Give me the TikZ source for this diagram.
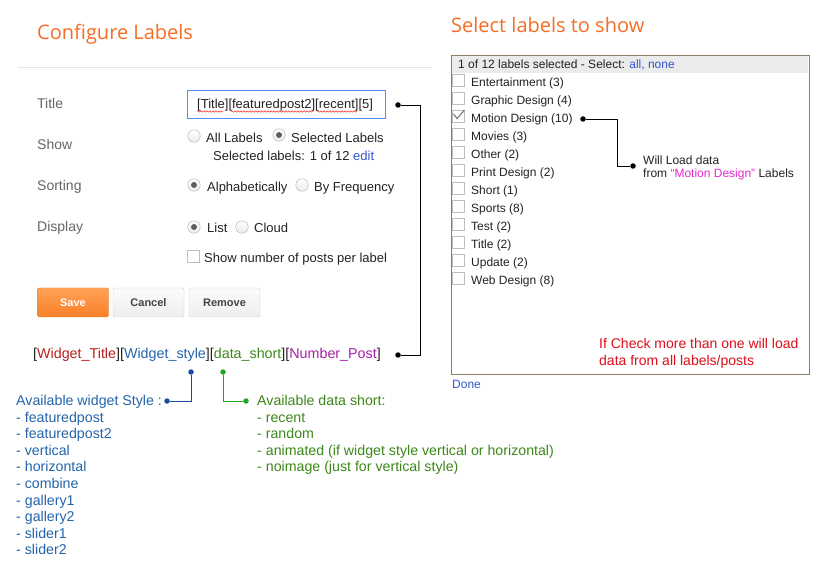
\documentclass[tikz,border=0pt]{standalone}
\usepackage{fontspec}
\setmainfont{Liberation Sans}
\newfontfamily\headfont{Open Sans}
\usetikzlibrary{positioning, decorations.pathmorphing}

\definecolor{cfgorange}{RGB}{247,108,35}
\definecolor{fieldgray}{RGB}{102,102,102}
\definecolor{uiblack}{RGB}{34,34,34}
\definecolor{inputblue}{RGB}{77,144,254}
\definecolor{radiogray}{RGB}{175,175,175}
\definecolor{dotgray}{RGB}{95,95,95}
\definecolor{chkgray}{RGB}{190,190,190}
\definecolor{btngray}{RGB}{205,205,205}
\definecolor{savetop}{RGB}{255,162,85}
\definecolor{savebot}{RGB}{249,128,40}
\definecolor{saveline}{RGB}{236,118,40}
\definecolor{sepgray}{RGB}{229,229,229}
\definecolor{boxbrown}{RGB}{140,125,105}
\definecolor{headgray}{RGB}{235,235,235}
\definecolor{linkblue}{RGB}{51,85,204}
\definecolor{wtred}{RGB}{185,30,30}
\definecolor{wsblue}{RGB}{35,100,170}
\definecolor{wsdot}{RGB}{25,75,160}
\definecolor{dsgreen}{RGB}{60,135,25}
\definecolor{dsdot}{RGB}{35,165,35}
\definecolor{nppurple}{RGB}{165,30,170}
\definecolor{mdmagenta}{RGB}{230,40,210}
\definecolor{notered}{RGB}{220,15,25}

\begin{document}
\begin{tikzpicture}[x=1pt, y=-1pt,
	heading/.style={anchor=base west, inner sep=0, text=cfgorange, font=\headfont\fontsize{20}{24}\selectfont},
	fieldname/.style={anchor=base west, inner sep=0, text=fieldgray, font=\fontsize{14}{16}\selectfont},
	uitext/.style={anchor=base west, inner sep=0, text=uiblack, font=\fontsize{13}{15}\selectfont},
	listtext/.style={anchor=base west, inner sep=0, text=uiblack, font=\fontsize{12}{14}\selectfont},
	radio/.style={circle, draw=radiogray, inner sep=0, minimum size=12.5pt, top color=white, bottom color=gray!15},
	radiodot/.style={circle, fill=dotgray, inner sep=0, minimum size=6pt},
	chkbox/.style={draw=chkgray, fill=white, inner sep=0, minimum size=12pt},
	button/.style={draw=btngray, rounded corners=1.5pt, top color=gray!3, bottom color=gray!13, minimum width=71pt, minimum height=29pt, inner sep=0, text=uiblack!85, font=\bfseries\fontsize{11}{13}\selectfont},
	joint/.style={circle, fill=black, inner sep=0, minimum size=5.5pt},
	note/.style={anchor=base west, inner sep=0, font=\fontsize{14.2}{17}\selectfont},
	spell/.style={decorate, decoration={snake, amplitude=0.7pt, segment length=3pt}, draw=red!85, line width=0.5pt}]

	\useasboundingbox (0,0) rectangle (836,588);

	% configure labels
	\node[heading] (cfg) at (37,40) {Configure Labels};
	\draw[sepgray] (18,67) -- (432,67);

	\node[fieldname] (ftitle) at (37,109) {Title};
	\node[fieldname] (fshow) at (37,150) {Show};
	\node[fieldname] (fsort) at (37,191) {Sorting};
	\node[fieldname] (fdisp) at (37,232) {Display};

	\node[draw=inputblue, line width=1pt, anchor=north west, minimum width=198pt, minimum height=28pt, inner sep=0] (tbox) at (187,90) {};
	\node[uitext] (ttext) at (197,108.5) {[Title][featuredpost2][recent][5]};
	\draw[spell] (197,111.5) -- (223,111.5);
	\draw[spell] (231,111.5) -- (313,111.5);
	\draw[spell] (317,111.5) -- (357,111.5);

	% radios
	\node[radio] (rall) at (194,136) {};
	\node[uitext] (tall) at (206,142.5) {All Labels};
	\node[radio] (rsel) at (279,135) {};
	\node[radiodot] (rseldot) at (rsel) {};
	\node[uitext] (tsel) at (291,142.5) {Selected Labels};
	\node[uitext] (tcount) at (213,160.5) {Selected labels: 1 of 12 \textcolor{linkblue}{edit}};

	\node[radio] (ralpha) at (194,185) {};
	\node[radiodot] (ralphadot) at (ralpha) {};
	\node[uitext] (talpha) at (207,191.5) {Alphabetically};
	\node[radio] (rfreq) at (302,185) {};
	\node[uitext] (tfreq) at (314,191.5) {By Frequency};

	\node[radio] (rlist) at (194,227) {};
	\node[radiodot] (rlistdot) at (rlist) {};
	\node[uitext] (tlist) at (207,233) {List};
	\node[radio] (rcloud) at (242,227) {};
	\node[uitext] (tcloud) at (254,233) {Cloud};

	\node[chkbox] (cnum) at (193,256.5) {};
	\node[uitext] (tnum) at (204,263) {Show number of posts per label};

	% buttons
	\node[button, draw=saveline, top color=savetop, bottom color=savebot, text=white] (save) at (73,302.5) {Save};
	\node[button] (cancel) at (148.5,302.5) {Cancel};
	\node[button] (remove) at (224.5,302.5) {Remove};

	% title format
	\node[note, text=uiblack, font=\fontsize{14.3}{17}\selectfont] (params) at (33,359)
		{[\textcolor{wtred}{Widget\_Title}][\textcolor{wsblue}{Widget\_style}][\textcolor{dsgreen}{data\_short}][\textcolor{nppurple}{Number\_Post}]};

	\node[joint] (tdot) at (398,105) {};
	\node[joint] (pdot) at (398,355) {};
	\draw[line width=0.9pt] (tdot) -- ++(22,0) |- (pdot);

	% widget styles
	\node[joint, fill=wsdot] (bdot) at (191,372) {};
	\node[joint, fill=wsdot] (wsjoint) at (167,401) {};
	\draw[wsdot, line width=0.9pt] (bdot) |- (wsjoint);
	\node[note, text=wsblue] (wstyle) at (16,405.5) {Available widget Style :};
	\foreach \item [count=\i] in {featuredpost, featuredpost2, vertical, horizontal, combine, gallery1, gallery2, slider1, slider2}
		\node[note, text=wsblue] (ws\i) at (16,{405.5+16.6*\i}) {- \item};

	% data short
	\node[joint, fill=dsdot] (gdot) at (223,372) {};
	\node[joint, fill=dsdot] (dsjoint) at (246,401) {};
	\draw[dsdot, line width=0.9pt] (gdot) |- (dsjoint);
	\node[note, text=dsgreen] (dshort) at (257,405.5) {Available data short:};
	\foreach \item [count=\i] in {recent, random, animated (if widget style vertical or horizontal), noimage (just for vertical style)}
		\node[note, text=dsgreen] (ds\i) at (257,{405.5+16.6*\i}) {- \item};

	% select labels
	\node[heading] (sel) at (451,33) {Select labels to show};
	\draw[boxbrown, fill=white] (451,55) rectangle (809,374);
	\fill[headgray] (452,56) rectangle (808,73);
	\node[listtext] (selhead) at (458,68.5) {1 of 12 labels selected - Select: \textcolor{linkblue}{all, none}};

	\foreach \lab [count=\i] in {Entertainment (3), Graphic Design (4), Motion Design (10), Movies (3), Other (2), Print Design (2), Short (1), Sports (8), Test (2), Title (2), Update (2), Web Design (8)} {
		\node[chkbox] (cb\i) at (458,{80.5+18*(\i-1)}) {};
		\node[listtext] (lab\i) at (471,{87+18*(\i-1)}) {\lab};
	}
	\draw[gray, line width=1.2pt] (453.5,114) -- (457,118.5) -- (464.5,110);

	\node[joint] (mdot) at (583,119) {};
	\node[joint] (ldot) at (633,166) {};
	\draw[line width=0.9pt] (mdot) -- ++(34,0) |- (ldot);
	\node[anchor=north west, inner sep=0, align=left, text=uiblack, font=\fontsize{12}{13.5}\selectfont] (load) at (643,155.3)
		{Will Load data\\from \textcolor{mdmagenta}{“Motion Design”} Labels};

	\node[anchor=north west, inner sep=0, align=left, text=notered, font=\fontsize{14}{17}\selectfont] (multi) at (599,337.8)
		{If Check more than one will load\\data from all labels/posts};

	\node[listtext, text=linkblue] (done) at (452,388) {Done};

\end{tikzpicture}
\end{document}
